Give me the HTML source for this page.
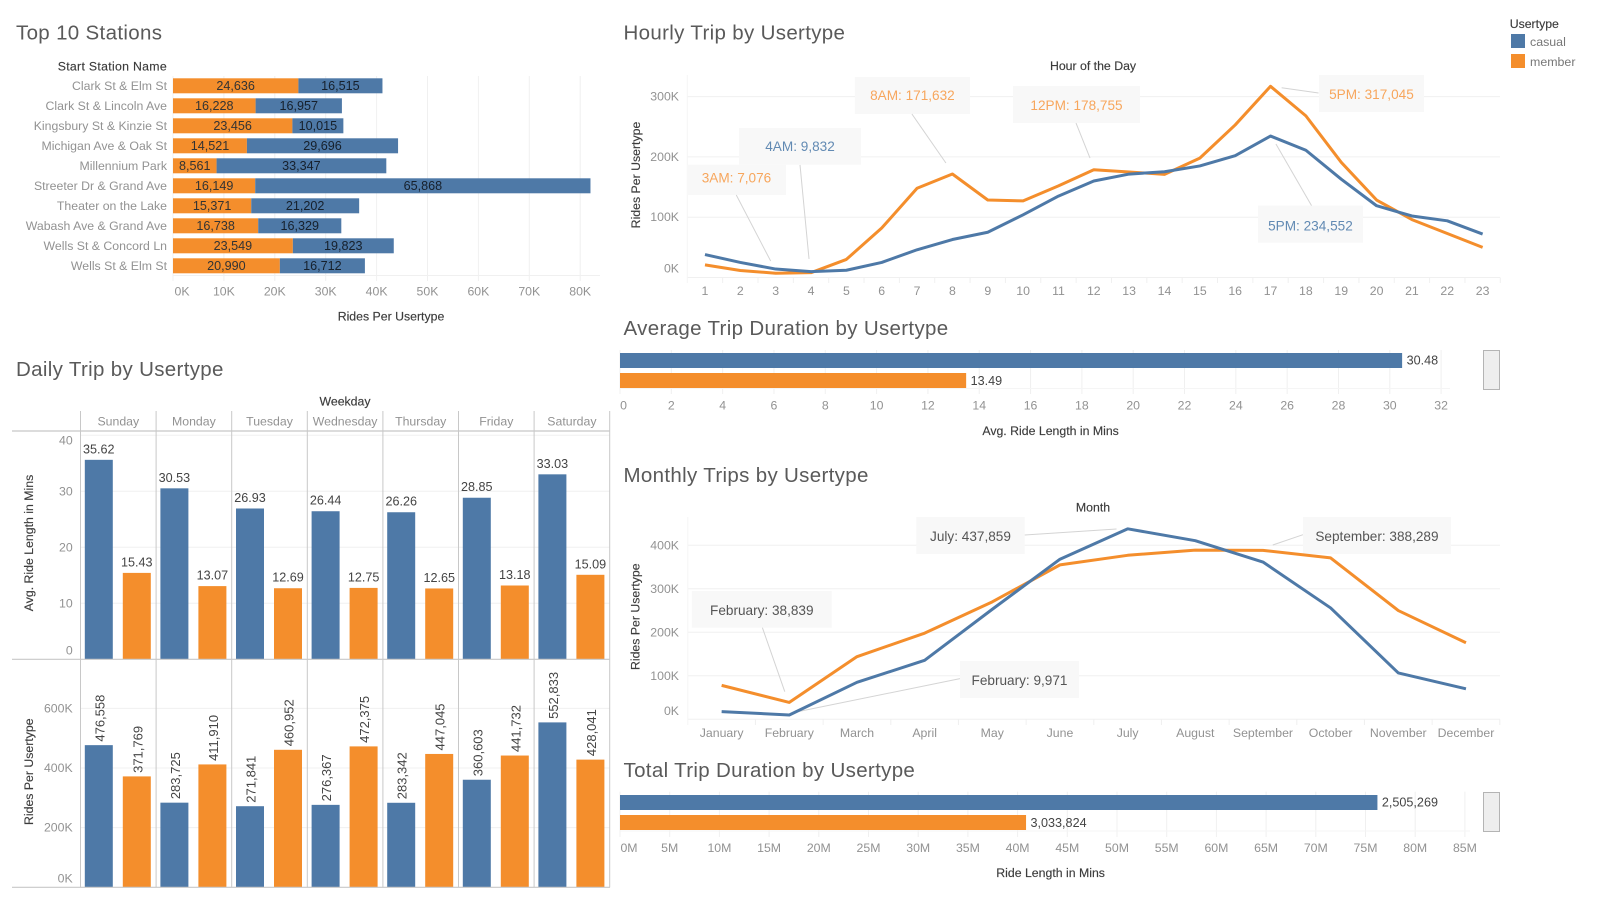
<!DOCTYPE html>
<html lang="en">
<head>
<meta charset="utf-8">
<title>Bike Share Usertype Dashboard</title>
<style>
html,body{margin:0;padding:0;background:#fff;width:1599px;height:899px;overflow:hidden}
svg{display:block;font-family:"Liberation Sans",sans-serif}
.title{font-size:20.5px;fill:#5a5a5a;letter-spacing:.33px}
.axt{font-size:12.3px;fill:#3c3c3c;stroke:#3c3c3c;stroke-width:.15px}
.tick{font-size:12.3px;fill:#929292}
.val{font-size:12.6px;fill:#333}
.val-dark{font-size:12.6px;fill:#16202c}
.vald{font-size:12.6px;fill:#444}
.rot{font-size:13px;fill:#444}
.note{font-size:13.6px}
.leg{font-size:12.4px;fill:#777}
text{dominant-baseline:central}
</style>
</head>
<body>
<svg id="dash" xmlns="http://www.w3.org/2000/svg" width="1599" height="899" viewBox="0 0 1599 899">
  <rect x="0" y="0" width="1599" height="899" fill="#ffffff"/>

  <g id="stations">
    <text class="title" x="16" y="33">Top 10 Stations</text>
    <text class="axt" x="167" y="66.7" text-anchor="end" style="letter-spacing:.3px">Start Station Name</text>
    <text class="axt" x="391" y="316.7" text-anchor="middle">Rides Per Usertype</text>
  </g>

  <g id="hourly">
    <text class="title" x="623.5" y="33">Hourly Trip by Usertype</text>
    <text class="axt" x="1093" y="66" text-anchor="middle">Hour of the Day</text>
    <text class="axt" x="636" y="175" text-anchor="middle" transform="rotate(-90 636 175)">Rides Per Usertype</text>
  </g>

  <g id="avgdur">
    <text class="title" x="623.5" y="328.3">Average Trip Duration by Usertype</text>
    <text class="axt" x="1050.6" y="431" text-anchor="middle">Avg. Ride Length in Mins</text>
    <rect x="1483.5" y="350.5" width="16" height="39" fill="#eeeeee" stroke="#b4b4b4" stroke-width="1"/>
  </g>

  <g id="daily">
    <text class="title" x="16" y="369.3">Daily Trip by Usertype</text>
    <text class="axt" x="345" y="401.7" text-anchor="middle">Weekday</text>
    <text class="axt" x="29" y="543" text-anchor="middle" transform="rotate(-90 29 543)">Avg. Ride Length in Mins</text>
    <text class="axt" x="29" y="771.7" text-anchor="middle" transform="rotate(-90 29 771.7)">Rides Per Usertype</text>
  </g>

  <g id="monthly">
    <text class="title" x="623.5" y="475.7">Monthly Trips by Usertype</text>
    <text class="axt" x="1093" y="507.7" text-anchor="middle">Month</text>
    <text class="axt" x="635.6" y="616.7" text-anchor="middle" transform="rotate(-90 635.6 616.7)">Rides Per Usertype</text>
  </g>

  <g id="totaldur">
    <text class="title" x="623.5" y="770.7">Total Trip Duration by Usertype</text>
    <text class="axt" x="1050.6" y="873" text-anchor="middle">Ride Length in Mins</text>
    <rect x="1483.5" y="792.5" width="16" height="39" fill="#eeeeee" stroke="#b4b4b4" stroke-width="1"/>
  </g>

  <g id="legend">
    <text class="axt" x="1509.7" y="24">Usertype</text>
    <rect x="1511" y="34" width="14" height="14" fill="#4e79a7"/>
    <text class="leg" x="1530" y="42">casual</text>
    <rect x="1511" y="54" width="14" height="14" fill="#f48e2c"/>
    <text class="leg" x="1530" y="62">member</text>
  </g>
</svg>

<script>
// ---------- data ----------
const stationNames = ["Clark St & Elm St","Clark St & Lincoln Ave","Kingsbury St & Kinzie St","Michigan Ave & Oak St","Millennium Park","Streeter Dr & Grand Ave","Theater on the Lake","Wabash Ave & Grand Ave","Wells St & Concord Ln","Wells St & Elm St"];
const stationMember = [24636,16228,23456,14521,8561,16149,15371,16738,23549,20990];
const stationCasual = [16515,16957,10015,29696,33347,65868,21202,16329,19823,16712];
const stationTicks = [0,10000,20000,30000,40000,50000,60000,70000,80000];

const hours = [1,2,3,4,5,6,7,8,9,10,11,12,13,14,15,16,17,18,19,20,21,22,23];
const hourlyCasual = [38000,25000,14000,9832,12000,25000,46000,63000,75000,104000,135000,160000,171500,175400,185000,202000,234552,211000,163000,119000,102000,94000,72000];
const hourlyMember = [21000,11600,7076,8000,30000,82000,148000,171632,128500,127000,152000,178755,175000,171000,198000,253000,317045,268000,191000,128500,96000,73000,50000];
const hourlyTicks = [0,100000,200000,300000];

const avgDuration = [30.48,13.49];
const avgTicks = [0,2,4,6,8,10,12,14,16,18,20,22,24,26,28,30,32];

const weekdays = ["Sunday","Monday","Tuesday","Wednesday","Thursday","Friday","Saturday"];
const dailyAvgCasual = [35.62,30.53,26.93,26.44,26.26,28.85,33.03];
const dailyAvgMember = [15.43,13.07,12.69,12.75,12.65,13.18,15.09];
const dailyRidesCasual = [476558,283725,271841,276367,283342,360603,552833];
const dailyRidesMember = [371769,411910,460952,472375,447045,441732,428041];
const dailyAvgTicks = [0,10,20,30,40];
const dailyRidesTicks = [0,200000,400000,600000];

const months = ["January","February","March","April","May","June","July","August","September","October","November","December"];
const monthlyCasual = [17600,9971,85000,135600,253000,368000,437859,410600,361500,256000,106500,70000];
const monthlyMember = [78000,38839,144000,198000,270000,355000,377000,389000,388289,371000,250000,176000];
const monthlyTicks = [0,100000,200000,300000,400000];

const totalDuration = [76200000,40850000];
const totalPrinted = ["2,505,269","3,033,824"];
const totalTicks = [0,5,10,15,20,25,30,35,40,45,50,55,60,65,70,75,80,85];

// ---------- helpers ----------
const NS = "http://www.w3.org/2000/svg";
const BLUE = "#4e79a7", ORANGE = "#f48e2c", GRID = "#f0f0f0", FAINT = "#f5f5f5", FRAME = "#c8c8c8";
function el(tag, parent, attrs){
  const e = document.createElementNS(NS, tag);
  for (const k in attrs) e.setAttribute(k, attrs[k]);
  parent.appendChild(e);
  return e;
}
function txt(parent, x, y, s, cls, anchor){
  const e = el("text", parent, {x:x, y:y, class:cls, "text-anchor":anchor||"middle"});
  e.textContent = s;
  return e;
}
function hline(parent, x1, x2, y, color){ return el("line", parent, {x1:x1,x2:x2,y1:y,y2:y,stroke:color,"stroke-width":1}); }
function vline(parent, x, y1, y2, color){ return el("line", parent, {x1:x,x2:x,y1:y1,y2:y2,stroke:color,"stroke-width":1}); }
const fmt = v => v.toLocaleString("en-US");
const fmtK = v => (v/1000)+"K";
function first(parent){ // insert a group behind the existing titles
  const g = document.createElementNS(NS,"g");
  parent.insertBefore(g,parent.firstChild);
  return g;
}
function series(parent, values, xf, yf, color){
  return el("polyline", parent, {points:values.map((v,i)=>xf(i)+","+yf(v)).join(" "),fill:"none",stroke:color,"stroke-width":3,"stroke-linejoin":"round","stroke-linecap":"butt"});
}
// annotation placed relative to its data point
function note(parent, ax, ay, s, color, bdx, bdy, bw, bh, l1x, l1y, l2x, l2y, tdy){
  const g = el("g", parent, {});
  
  
  const box = el("rect", g, {x:ax+bdx,y:ay+bdy,width:bw,height:bh,fill:"#f8f8f8"});
  
  
  const ln = el("line", g, {x1:ax+l1x,y1:ay+l1y,x2:ax+l2x,y2:ay+l2y,stroke:"#d4d4d4","stroke-width":1});
  
  
  const t = txt(g, ax+bdx+bw/2, ay+bdy+bh/2+(tdy||0), s, "note");
  t.setAttribute("fill", color);
  
  
}

// ---------- top stations ----------
(function(){
  const root = document.getElementById("stations");
  const g = first(root);
  const x = v => 173 + v*0.00509;
  const rowY = i => 78.3 + i*20;
  stationTicks.forEach((t,i)=>{
    const gl = vline(g, x(t), 76, 281, GRID);
    
    
    const lb = i===0 ? txt(g, x(t)+1.5, 291.7, fmtK(t), "tick", "start") : txt(g, x(t), 291.7, fmtK(t), "tick");
    
    
  });
  const ax = hline(g, 173, 600, 275.5, GRID);
  
  
  stationNames.forEach((n,i)=>{
    const y = rowY(i), m = stationMember[i], c = stationCasual[i];
    const lb = txt(g, 167, y+7.5, n, "tick", "end");
    
    
    const b1 = el("rect", g, {x:x(0),y:y,width:x(m)-x(0),height:15,fill:ORANGE});
    
    
    const b2 = el("rect", g, {x:x(m),y:y,width:x(m+c)-x(m),height:15,fill:BLUE});
    
    
    const v1 = txt(g, (x(0)+x(m))/2, y+7.5, fmt(m), "val");
    
    
    const v2 = txt(g, (x(m)+x(m+c))/2, y+7.5, fmt(c), "val-dark");
    
    
  });
})();

// ---------- hourly ----------
(function(){
  const root = document.getElementById("hourly");
  const g = first(root);
  const band = 813/23;
  const x = i => 687.3 + band*(i+0.5);
  const y = v => 277.5 - v*0.000603;
  hourlyTicks.forEach(t=>{
    if (t>0){
      const gl = hline(g, 687, 1500, y(t), GRID);
      
      
    }
    const lb = txt(g, 679, t===0 ? 268.7 : y(t), fmtK(t), "tick", "end");
    
    
  });
  const ax = hline(g, 687, 1500, 277.5, GRID);
  
  
  const yax = vline(g, 687.3, 75, 283, FAINT);
  
  
  hours.forEach((h,i)=>{
    const tk = vline(g, 687.3+band*(i+1), 277.5, 283, GRID);
    
    
    const lb = txt(g, x(i), 291, String(h), "tick");
    
    
  });
  const oc = "#f7a65c", bc = "#628ab3";
  note(g, x(2), y(hourlyMember[2]), "3AM: "+fmt(hourlyMember[2]), oc, -88.7,-108.5,99,30.3, -39.4,-78.2,-5,-12.2, -2);
  note(g, x(3), y(hourlyCasual[3]), "4AM: "+fmt(hourlyCasual[3]), bc, -72,-143.6,122,36.7, -11,-106.6,-2,-12.6, 0);
  note(g, x(7), y(hourlyMember[7]), "8AM: "+fmt(hourlyMember[7]), oc, -97.5,-97,115,37, -40.5,-60,-6.5,-11, 0);
  note(g, x(11), y(hourlyMember[11]), "12PM: "+fmt(hourlyMember[11]), oc, -80.8,-83.7,127,37, -17.8,-46.7,-3.8,-11.7, 1);
  note(g, x(16), y(hourlyMember[16]), "5PM: "+fmt(hourlyMember[16]), oc, 48.4,-11.3,105,37, 48,6.7,11.1,1.4, 1);
  note(g, x(16), y(hourlyCasual[16]), "5PM: "+fmt(hourlyCasual[16]), bc, -12.6,69.6,105,37, 41,69.6,5.4,7.9, 2);
  const l1 = series(g, hourlyMember, x, y, ORANGE);
  
  
  const l2 = series(g, hourlyCasual, x, y, BLUE);
  
  
})();

// ---------- average duration ----------
(function(){
  const root = document.getElementById("avgdur");
  const g = first(root);
  const x = v => 620 + v*25.66;
  avgTicks.forEach((t,i)=>{
    const gl = vline(g, x(t), 350, 394, GRID);
    
    
    const lb = txt(g, i===0 ? x(t)+3.5 : x(t), 405.7, String(t), "tick");
    
    
  });
  const ax = hline(g, 620, 1450, 388.5, FAINT);
  
  
  const colors = [BLUE, ORANGE];
  avgDuration.forEach((v,i)=>{
    const b = el("rect", g, {x:x(0),y:353+i*20,width:x(v)-x(0),height:15,fill:colors[i]});
    
    
    const t = txt(g, x(v)+4.5, 360.5+i*20.5, v.toFixed(2), "vald", "start");
    
    
  });
})();

// ---------- daily panes ----------
(function(){
  const root = document.getElementById("daily");
  const g = first(root);
  const bandW = 75.6, bx = i => 80.5 + bandW*i;
  const yA = v => 659.3 - v*5.6;
  const yR = v => 887.3 - v*0.0002983;
  dailyAvgTicks.forEach(t=>{
    if (t>0){
      const gl = hline(g, 80.5, 610, yA(t), GRID);
      
      
    }
    const pos = t===0 ? 650.7 : (t===40 ? 440.7 : yA(t));
    const lb = txt(g, 72.7, pos, String(t), "tick", "end");
    
    
  });
  dailyRidesTicks.forEach(t=>{
    if (t>0){
      const gl = hline(g, 80.5, 610, yR(t), GRID);
      
      
    }
    const lb = txt(g, 72.7, t===0 ? 878.7 : yR(t), fmtK(t), "tick", "end");
    
    
  });
  weekdays.forEach((d,i)=>{
    const lb = txt(g, bx(i)+bandW/2, 421.7, d, "tick");
    
    
    const xb = bx(i)+4.3, xo = bx(i)+42.3;
    const a1 = el("rect", g, {x:xb,y:yA(dailyAvgCasual[i]),width:28,height:yA(0)-yA(dailyAvgCasual[i]),fill:BLUE});
    
    
    const a2 = el("rect", g, {x:xo,y:yA(dailyAvgMember[i]),width:28,height:yA(0)-yA(dailyAvgMember[i]),fill:ORANGE});
    
    
    const t1 = txt(g, xb+14, yA(dailyAvgCasual[i])-10.5, dailyAvgCasual[i].toFixed(2), "vald");
    
    
    const t2 = txt(g, xo+14, yA(dailyAvgMember[i])-10.5, dailyAvgMember[i].toFixed(2), "vald");
    
    
    const r1 = el("rect", g, {x:xb,y:yR(dailyRidesCasual[i]),width:28,height:yR(0)-yR(dailyRidesCasual[i]),fill:BLUE});
    
    
    const r2 = el("rect", g, {x:xo,y:yR(dailyRidesMember[i]),width:28,height:yR(0)-yR(dailyRidesMember[i]),fill:ORANGE});
    
    
    [[xb,dailyRidesCasual[i],"daily-rides-casual-value"],[xo,dailyRidesMember[i],"daily-rides-member-value"]].forEach(p=>{
      const px = p[0]+15, py = yR(p[1])-3.5;
      const t = txt(g, px, py, fmt(p[1]), "rot", "start");
      t.setAttribute("transform", "rotate(-90 "+px+" "+py+")");
      
      
    });
  });
  for (let i=0;i<=7;i++){
    const f = vline(g, bx(i), 411, 887.3, FRAME);
    
    
  }
  [431,659.3,887.3].forEach(py=>{
    const f = hline(g, 12, 610, py, FRAME);
    f.setAttribute("stroke-width", 1.2);
    
    
  });
})();

// ---------- monthly ----------
(function(){
  const root = document.getElementById("monthly");
  const g = first(root);
  const band = 812/12;
  const x = i => 687.8 + band*(i+0.5);
  const y = v => 719.3 - v*0.000435;
  monthlyTicks.forEach(t=>{
    if (t>0){
      const gl = hline(g, 688, 1500, y(t), GRID);
      
      
    }
    const lb = txt(g, 679, t===0 ? 711 : y(t), fmtK(t), "tick", "end");
    
    
  });
  const ax = hline(g, 688, 1500, 719.3, GRID);
  
  
  const yax = vline(g, 687.8, 517, 725, FAINT);
  
  
  months.forEach((m,i)=>{
    const tk = vline(g, 687.8+band*(i+1), 719.3, 725, GRID);
    
    
    const lb = txt(g, x(i), 733, m, "tick");
    
    
  });
  const nc = "#555555";
  note(g, x(6), y(monthlyCasual[6]), months[6]+": "+fmt(monthlyCasual[6]), nc, -211.4,-11.8,108.5,37, -102.9,6.2,-11.1,0.2, 1);
  note(g, x(8), y(monthlyMember[8]), months[8]+": "+fmt(monthlyMember[8]), nc, 40,-33.4,148,37, 40,-15.7,9.8,-5.4, 1);
  note(g, x(1), y(monthlyMember[1]), months[1]+": "+fmt(monthlyMember[1]), nc, -97.5,-111.4,140,36.7, -26.9,-74.7,-4.5,-10.7, 1);
  note(g, x(1), y(monthlyCasual[1]), months[1]+": "+fmt(monthlyCasual[1]), nc, 170.7,-54,119,37, 170.7,-36.3,8.7,-3.3, 1);
  const l1 = series(g, monthlyMember, x, y, ORANGE);
  
  
  const l2 = series(g, monthlyCasual, x, y, BLUE);
  
  
})();

// ---------- total duration ----------
(function(){
  const root = document.getElementById("totaldur");
  const g = first(root);
  const x = v => 620 + v*0.00000994;
  totalTicks.forEach((t,i)=>{
    const px = x(t*1000000);
    const gl = vline(g, px, 791.7, 837, GRID);
    
    
    const lb = txt(g, i===0 ? px+9 : px, 848, t+"M", "tick");
    
    
  });
  const ax = hline(g, 620, 1470, 831, FAINT);
  
  
  const colors = [BLUE, ORANGE];
  totalDuration.forEach((v,i)=>{
    const b = el("rect", g, {x:x(0),y:795+i*20,width:x(v)-x(0),height:15,fill:colors[i]});
    
    
    const t = txt(g, x(v)+4.5, 802.7+i*20.3, totalPrinted[i], "vald", "start");
    
    
  });
})();
</script>
</body>
</html>
